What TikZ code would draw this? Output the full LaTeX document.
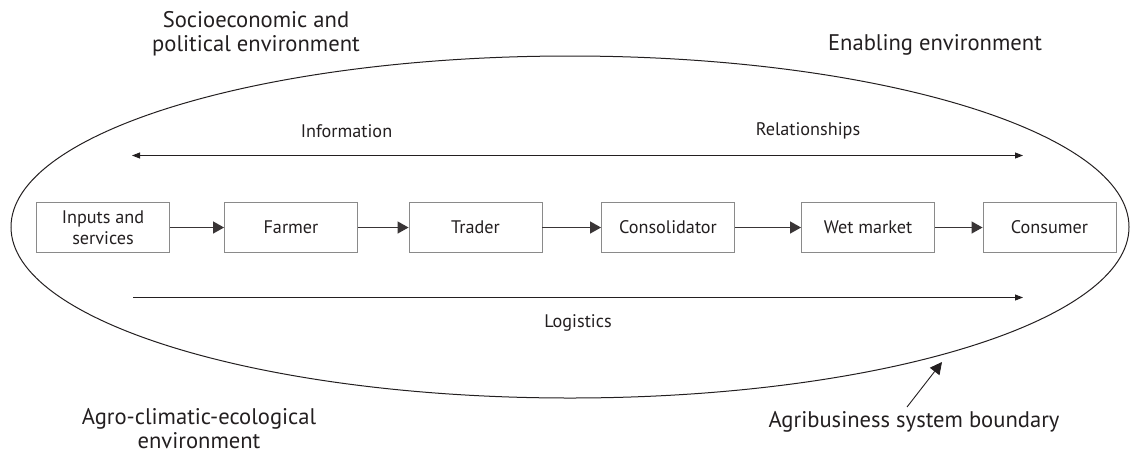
\documentclass[tikz,border=0pt]{standalone}
\usepackage{fontspec}
\setmainfont{PT Sans}
\usetikzlibrary{arrows.meta}
\definecolor{ink}{HTML}{231F20}
\definecolor{frame}{HTML}{8A8A8A}
\tikzset{
  stage/.style={draw=frame, line width=0.9pt, minimum width=133pt, minimum height=50pt,
    inner sep=0pt, align=center, font=\fontsize{18.2}{21}\selectfont, text=ink},
  flow/.style={draw=ink!90, line width=1.3pt, -{Triangle[length=11pt,width=12pt]}},
  thin/.style={draw=ink, line width=0.9pt},
  small/.style={font=\fontsize{18.2}{21}\selectfont, text=ink},
  big/.style={font=\fontsize{22.6}{24}\selectfont, text=ink, align=center, inner sep=0pt},
}
\begin{document}
\begin{tikzpicture}[x=1pt, y=-1pt]
\useasboundingbox (0,0) rectangle (1131,456);
% system boundary
\draw[thin, line width=1pt] (570,227) ellipse [x radius=559, y radius=171];
% value chain stages
\node[stage] (inp)  at (103,227.5) {Inputs and\\services};
\node[stage] (farm) at (291,227.5) {Farmer};
\node[stage] (trad) at (475.5,227.5) {Trader};
\node[stage] (cons) at (668,227.5) {Consolidator};
\node[stage] (wet)  at (868,227.5) {Wet market};
\node[stage] (cust) at (1049.5,227.5) {Consumer};
\draw[flow] (inp) -- (farm);
\draw[flow] (farm) -- (trad);
\draw[flow] (trad) -- (cons);
\draw[flow] (cons) -- (wet);
\draw[flow] (wet) -- (cust);
% flows across the chain
\coordinate (iL) at (132,155.5);
\coordinate (iR) at (1023,155.5);
\coordinate (lL) at (133,297.5);
\coordinate (lR) at (1023,297.5);
\draw[thin, {Triangle[length=8pt,width=6pt]}-{Triangle[length=8pt,width=6pt]}] (iL) -- (iR);
\draw[thin, -{Triangle[length=8pt,width=6pt]}] (lL) -- (lR);
\node[small] (info) at (346.5,131) {Information};
\node[small] (rel)  at (808,131) {Relationships};
\node[small] (log)  at (578,323) {Logistics};
% environments
\node[big] (soc) at (256,34) {Socioeconomic and\\political environment};
\node[big] (ena) at (935,45) {Enabling environment};
\node[big] (agr) at (199,429) {Agro-climatic-ecological\\environment};
\node[big] (bnd) at (914,422) {Agribusiness system boundary};
\coordinate (tip) at (942,362);
\coordinate (tail) at (907,407);
\draw[thin, -{Triangle[length=12pt,width=12pt]}] (tail) -- (tip);
\end{tikzpicture}
\end{document}
